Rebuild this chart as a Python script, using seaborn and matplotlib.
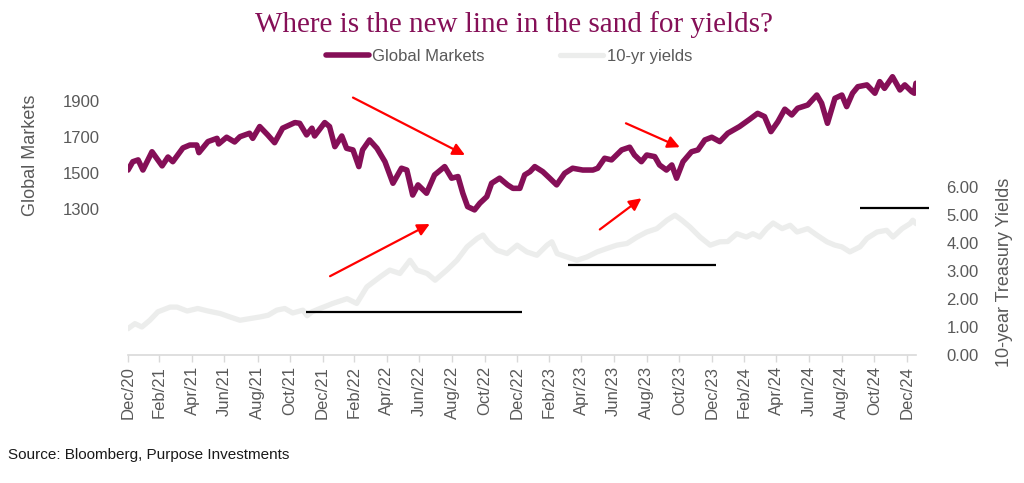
import matplotlib
matplotlib.use("Agg")
import matplotlib.pyplot as plt
import matplotlib.dates as mdates
from matplotlib.ticker import FormatStrFormatter
import seaborn as sns
import pandas as pd

# ---------------- data ----------------
mkt_dates = ["2020-12-31", "2021-01-09", "2021-01-19", "2021-01-28", "2021-02-14", "2021-03-05",
             "2021-03-16", "2021-03-25", "2021-04-13", "2021-04-26", "2021-05-09", "2021-05-13",
             "2021-05-30", "2021-06-16", "2021-06-19", "2021-07-04", "2021-07-19", "2021-07-29",
             "2021-08-16", "2021-08-22", "2021-09-04", "2021-09-19", "2021-10-02", "2021-10-17",
             "2021-11-09", "2021-11-18", "2021-12-01", "2021-12-11", "2021-12-16", "2022-01-04",
             "2022-01-13", "2022-01-23", "2022-02-05", "2022-02-14", "2022-02-26", "2022-03-09",
             "2022-03-16", "2022-03-29", "2022-04-12", "2022-04-27", "2022-05-12", "2022-05-28",
             "2022-06-07", "2022-06-18", "2022-06-28", "2022-07-14", "2022-07-29", "2022-08-17",
             "2022-08-30", "2022-09-11", "2022-09-20", "2022-09-29", "2022-10-12", "2022-10-22",
             "2022-11-04", "2022-11-13", "2022-11-28", "2022-12-13", "2022-12-23", "2023-01-05",
             "2023-01-14", "2023-01-24", "2023-02-02", "2023-02-17", "2023-03-02", "2023-03-15",
             "2023-03-30", "2023-04-14", "2023-05-03", "2023-05-22", "2023-05-31", "2023-06-13",
             "2023-06-26", "2023-07-15", "2023-07-30", "2023-08-08", "2023-08-21", "2023-08-31",
             "2023-09-15", "2023-09-24", "2023-10-07", "2023-10-17", "2023-10-26", "2023-11-07",
             "2023-11-23", "2023-12-05", "2023-12-18", "2023-12-31", "2024-01-15", "2024-01-30",
             "2024-02-21", "2024-03-11", "2024-03-26", "2024-04-08", "2024-04-20", "2024-05-03",
             "2024-05-16", "2024-05-29", "2024-06-09", "2024-06-28", "2024-07-15", "2024-07-24",
             "2024-08-04", "2024-08-18", "2024-08-31", "2024-09-09", "2024-09-20", "2024-09-30",
             "2024-10-17", "2024-11-01", "2024-11-10", "2024-11-19", "2024-12-04", "2024-12-18",
             "2024-12-27", "2025-01-09", "2025-01-14", "2025-01-17"]
mkt_vals = [1517, 1563, 1573, 1517, 1618, 1540,
            1589, 1563, 1639, 1655, 1655, 1613,
            1674, 1692, 1661, 1698, 1672, 1701,
            1720, 1692, 1757, 1711, 1668, 1748,
            1779, 1775, 1711, 1748, 1705, 1779,
            1757, 1646, 1705, 1637, 1628, 1536,
            1628, 1683, 1637, 1563, 1444, 1527,
            1517, 1379, 1435, 1389, 1490, 1536,
            1472, 1481, 1389, 1315, 1297, 1334,
            1370, 1444, 1472, 1435, 1416, 1416,
            1490, 1508, 1536, 1508, 1472, 1435,
            1499, 1527, 1517, 1517, 1527, 1582,
            1573, 1628, 1643, 1600, 1563, 1600,
            1591, 1545, 1517, 1545, 1472, 1563,
            1618, 1628, 1683, 1698, 1674, 1720,
            1757, 1797, 1830, 1812, 1729, 1784,
            1853, 1821, 1858, 1876, 1931, 1886,
            1775, 1913, 1931, 1867, 1941, 1977,
            1987, 1941, 2005, 1968, 2032, 1959,
            1987, 1950, 1941, 1996]

yld_dates = ["2020-12-31", "2021-01-13", "2021-01-26", "2021-02-10", "2021-02-25", "2021-03-20",
             "2021-04-02", "2021-04-21", "2021-05-11", "2021-05-30", "2021-06-22", "2021-07-10",
             "2021-07-29", "2021-08-17", "2021-09-05", "2021-09-20", "2021-10-06", "2021-10-21",
             "2021-11-05", "2021-11-24", "2021-12-02", "2021-12-11", "2021-12-26", "2022-01-10",
             "2022-01-19", "2022-02-15", "2022-03-05", "2022-03-24", "2022-04-18", "2022-05-06",
             "2022-05-25", "2022-06-13", "2022-06-26", "2022-07-15", "2022-07-30", "2022-08-21",
             "2022-09-09", "2022-09-28", "2022-10-17", "2022-10-28", "2022-11-06", "2022-11-23",
             "2022-12-12", "2022-12-31", "2023-01-18", "2023-02-06", "2023-02-25", "2023-03-06",
             "2023-03-16", "2023-04-03", "2023-04-22", "2023-05-11", "2023-05-30", "2023-06-17",
             "2023-07-06", "2023-07-25", "2023-08-13", "2023-08-31", "2023-09-19", "2023-10-08",
             "2023-10-23", "2023-11-05", "2023-11-20", "2023-12-09", "2023-12-28", "2024-01-15",
             "2024-01-30", "2024-02-16", "2024-03-05", "2024-03-17", "2024-03-30", "2024-04-12",
             "2024-04-24", "2024-05-11", "2024-05-26", "2024-06-08", "2024-06-28", "2024-07-15",
             "2024-08-03", "2024-08-18", "2024-08-31", "2024-09-15", "2024-10-04", "2024-10-17",
             "2024-11-05", "2024-11-23", "2024-12-05", "2024-12-22", "2025-01-06", "2025-01-11",
             "2025-01-17"]
yld_vals = [0.94, 1.12, 1.00, 1.24, 1.54, 1.71,
            1.71, 1.57, 1.66, 1.57, 1.48, 1.36,
            1.24, 1.30, 1.36, 1.42, 1.60, 1.66,
            1.50, 1.60, 1.40, 1.54, 1.66, 1.77,
            1.84, 2.01, 1.84, 2.43, 2.79, 3.03,
            2.91, 3.38, 3.03, 2.91, 2.67, 3.03,
            3.38, 3.86, 4.16, 4.28, 4.04, 3.74,
            3.62, 3.92, 3.68, 3.56, 3.92, 4.04,
            3.62, 3.50, 3.38, 3.50, 3.68, 3.80,
            3.92, 3.98, 4.21, 4.39, 4.51, 4.81,
            4.99, 4.81, 4.57, 4.21, 3.92, 4.04,
            4.05, 4.33, 4.21, 4.33, 4.21, 4.51,
            4.71, 4.51, 4.63, 4.39, 4.51, 4.28,
            4.04, 3.92, 3.86, 3.68, 3.86, 4.16,
            4.39, 4.45, 4.21, 4.51, 4.69, 4.81,
            4.69]

# "line in the sand" levels (10-yr yield axis): start, end, level
sand_starts = ["2021-11-30", "2023-04-05", "2024-10-04"]
sand_ends = ["2023-01-09", "2024-01-08", "2025-02-10"]
sand_levels = [1.52, 3.20, 5.23]

# red arrows on the Global Markets axis: (start date, start value) -> (end date, end value)
arrow_from_dates = ["2022-02-26", "2022-01-14", "2023-07-23", "2023-06-04"]
arrow_from_vals = [1917, 931, 1775, 1189]
arrow_to_dates = ["2022-09-24", "2022-07-20", "2023-11-01", "2023-08-21"]
arrow_to_vals = [1600, 1219, 1643, 1361]

left_ticks = [1300, 1500, 1700, 1900]
right_ticks = [0, 1, 2, 3, 4, 5, 6]

title = "Where is the new line in the sand for yields?"
source = "Source: Bloomberg, Purpose Investments"

PURPLE = "#850F57"
GREY_LINE = "#ECEDEC"
TXT = "#595959"

mkt = pd.DataFrame({"date": pd.to_datetime(mkt_dates), "value": mkt_vals})
yld = pd.DataFrame({"date": pd.to_datetime(yld_dates), "value": yld_vals})

# ---------------- plot ----------------
sns.set_theme(style="white")
plt.rcParams["font.family"] = ["Liberation Sans", "DejaVu Sans"]

fig = plt.figure(figsize=(10.24, 4.83), dpi=100)
ax = fig.add_axes([0.125, 0.265, 0.7695, 0.59])
ax2 = ax.twinx()

sns.lineplot(data=yld, x="date", y="value", ax=ax2, color=GREY_LINE, lw=3.8,
             label="10-yr yields")
sns.lineplot(data=mkt, x="date", y="value", ax=ax, color=PURPLE, lw=4.0,
             label="Global Markets")

ax2.hlines(sand_levels, pd.to_datetime(sand_starts), pd.to_datetime(sand_ends),
           colors="black", lw=1.6, clip_on=False, zorder=5)

for fd, fv, td, tv in zip(arrow_from_dates, arrow_from_vals, arrow_to_dates, arrow_to_vals):
    ax.annotate("", xy=(pd.Timestamp(td), tv), xytext=(pd.Timestamp(fd), fv),
                arrowprops=dict(arrowstyle="-|>", color="red", lw=1.6,
                                mutation_scale=18, shrinkA=0, shrinkB=0),
                annotation_clip=False, zorder=6)

ax.set_xlim(pd.Timestamp("2020-12-31"), pd.Timestamp("2025-01-17"))
ax.set_ylim(496, 2069)
ax2.set_ylim(0, 10.17)

ax.set_xticks(pd.date_range("2020-12-31", "2024-12-31", freq="2ME"))
ax.xaxis.set_major_formatter(mdates.DateFormatter("%b/%y"))
ax.tick_params(axis="x", bottom=True, length=5, width=1, color="#D9D9D9",
               labelrotation=90, labelsize=12, labelcolor=TXT, pad=3)

ax.set_yticks(left_ticks)
ax.tick_params(axis="y", left=False, labelsize=12, labelcolor=TXT, pad=14)
ax2.set_yticks(right_ticks)
ax2.yaxis.set_major_formatter(FormatStrFormatter("%.2f"))
ax2.tick_params(axis="y", right=False, labelsize=12, labelcolor=TXT, pad=16)

for a in (ax, ax2):
    for s in a.spines.values():
        s.set_visible(False)
ax.spines["bottom"].set_visible(True)
ax.spines["bottom"].set_color("#D9D9D9")
ax.spines["bottom"].set_linewidth(1.2)

ax.set_xlabel("")
ax.set_ylabel("Global Markets", fontsize=13, color=TXT)
ax.yaxis.set_label_coords(-0.113, 0.70)
ax2.set_ylabel("10-year Treasury Yields", fontsize=13, color=TXT, rotation=90)
ax2.yaxis.set_label_coords(1.101, 0.29)

h1, l1 = ax.get_legend_handles_labels()
h2, l2 = ax2.get_legend_handles_labels()
ax.get_legend().remove()
ax2.get_legend().remove()
fig.legend(h1 + h2, l1 + l2, loc="center", bbox_to_anchor=(0.497, 0.884), ncol=2,
           frameon=False, fontsize=12, labelcolor=TXT, handlelength=2.6,
           handletextpad=0.2, columnspacing=4.5)

fig.text(0.502, 0.950, title, ha="center", va="center", fontsize=21, color=PURPLE,
         family="Liberation Serif")
fig.text(0.008, 0.058, source, ha="left", va="center", fontsize=11, color="#1a1a1a")

fig.savefig("out.png", dpi=100)
